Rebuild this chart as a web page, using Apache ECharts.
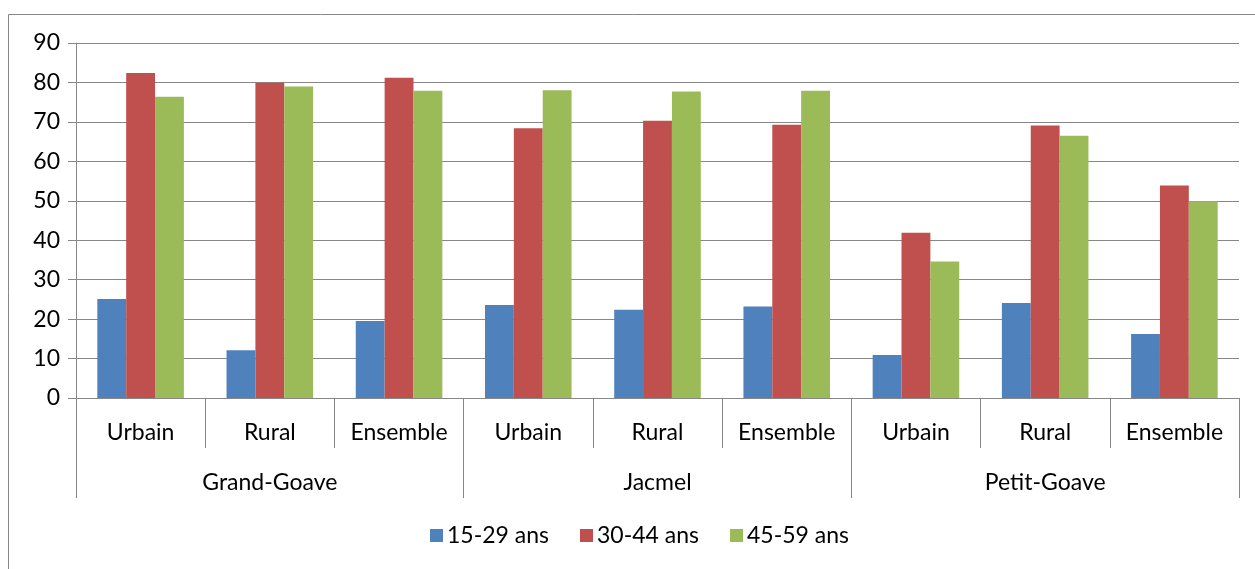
<!DOCTYPE html>
<html>
<head>
<meta charset="utf-8">
<script src="https://cdn.jsdelivr.net/npm/echarts@6/dist/echarts.min.js"></script>
<style>
  html, body { margin: 0; padding: 0; background: #fff; }
  #chartBox { width: 1255px; height: 569px; }
</style>
</head>
<body>
<div id="chartBox"></div>
<script>
// catégories (niveau 1 et niveau 2)
const milieux = ['Urbain', 'Rural', 'Ensemble', 'Urbain', 'Rural', 'Ensemble', 'Urbain', 'Rural', 'Ensemble'];
const communes = ['Grand-Goave', 'Jacmel', 'Petit-Goave'];
// valeurs
const ans15_29 = [25.1, 12.1, 19.5, 23.6, 22.4, 23.2, 10.9, 24.1, 16.2];
const ans30_44 = [82.4, 79.9, 81.2, 68.4, 70.3, 69.3, 41.9, 69.1, 53.9];
const ans45_59 = [76.4, 79.0, 77.9, 78.0, 77.7, 77.9, 34.6, 66.5, 49.9];

const gris = '#878787';
const police = 'Lato';

let myChart = echarts.init(document.getElementById('chartBox'));
myChart.setOption({
  animation: false,
  textStyle: { fontFamily: police, color: '#000' },
  color: ['#4F81BD', '#C0504D', '#9BBB59'],
  graphic: [{
    type: 'rect',
    shape: { x: 8.5, y: 14.5, width: 1300, height: 700 },
    style: { fill: 'none', stroke: gris, lineWidth: 1 },
    silent: true
  }],
  grid: {
    left: 76, right: 16, top: 43, bottom: 171,
    containLabel: false,
    outerBoundsMode: 'none'
  },
  legend: {
    left: 430,
    top: 524,
    padding: 0,
    itemWidth: 13,
    itemHeight: 13,
    itemGap: 31,
    icon: 'rect',
    textStyle: { fontFamily: police, fontSize: 23, color: '#000', padding: [0, 0, 0, -1] },
    data: ['15-29 ans', '30-44 ans', '45-59 ans']
  },
  xAxis: [{
    type: 'category',
    data: milieux,
    axisLine: { lineStyle: { color: gris, width: 1 } },
    axisTick: { show: true, interval: 0, length: 50, lineStyle: { color: gris } },
    axisLabel: { interval: 0, margin: 23, fontFamily: police, fontSize: 23, color: '#000' }
  }, {
    type: 'category',
    data: communes,
    position: 'bottom',
    axisLine: { show: false },
    axisTick: { show: true, interval: 0, length: 100, lineStyle: { color: gris } },
    axisLabel: { interval: 0, margin: 73, fontFamily: police, fontSize: 23, color: '#000' }
  }],
  yAxis: {
    type: 'value',
    min: 0,
    max: 90,
    interval: 10,
    axisLine: { show: true, lineStyle: { color: gris } },
    axisTick: { show: true, length: 8, lineStyle: { color: gris } },
    axisLabel: { margin: 16, fontFamily: police, fontSize: 23, color: '#000' },
    splitLine: { lineStyle: { color: gris, width: 1.2 } }
  },
  series: [{
    name: '15-29 ans',
    type: 'bar',
    xAxisIndex: 0,
    barGap: 0,
    barCategoryGap: '33%',
    data: ans15_29
  }, {
    name: '30-44 ans',
    type: 'bar',
    xAxisIndex: 0,
    barGap: 0,
    barCategoryGap: '33%',
    data: ans30_44
  }, {
    name: '45-59 ans',
    type: 'bar',
    xAxisIndex: 0,
    barGap: 0,
    barCategoryGap: '33%',
    data: ans45_59
  }]
});
</script>
</body>
</html>
